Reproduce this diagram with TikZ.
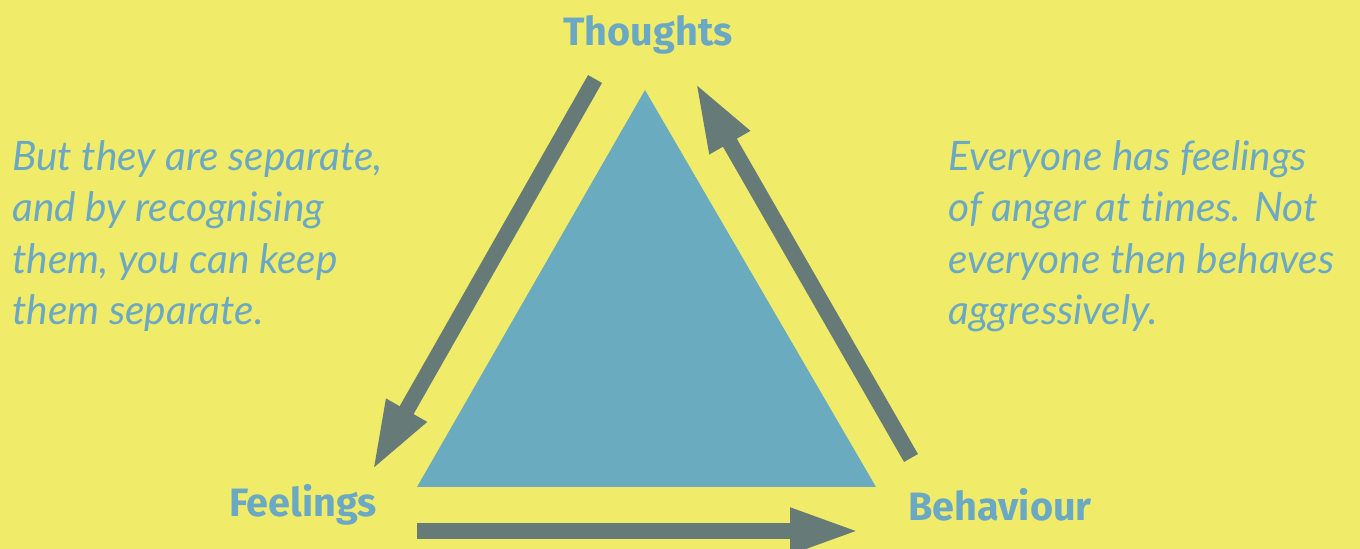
\documentclass[tikz,border=0pt]{standalone}
\usepackage{fontspec}
\setmainfont{Lato}[Ligatures=NoCommon]
\newfontfamily\labelfont{Fira Sans}
\usetikzlibrary{arrows.meta,positioning}
\definecolor{bgyellow}{HTML}{F0EC6A}
\definecolor{triblue}{HTML}{6AABC0}
\definecolor{arrowgrey}{HTML}{667A78}
\definecolor{textblue}{HTML}{6AA8C4}
\begin{document}
\begin{tikzpicture}[x=0.5pt, y=-0.5pt, corner/.style={text=textblue, inner sep=0pt, font={\labelfont\bfseries\fontsize{19.8pt}{22pt}\selectfont}}, note/.style={text=textblue, inner sep=0pt, anchor=north west, align=left, font={\itshape\fontsize{20.3pt}{25.7pt}\selectfont}}, cyclearrow/.style={arrowgrey, line width=8pt, -{Triangle[length=35pt, width=21pt]}}]
  \fill[bgyellow] (0,0) rectangle (1360,549);
  \useasboundingbox (0,0) rectangle (1360,549);

  \coordinate (apex) at (645,90);
  \coordinate (baseleft) at (417,487);
  \coordinate (baseright) at (876,487);
  \fill[triblue] (apex) -- (baseright) -- (baseleft) -- cycle;

  \node[corner] (thoughts) at (648,35) {Thoughts};
  \node[corner] (feelings) at (303,505) {Feelings};
  \node[corner] (behaviour) at (1000,505) {Behaviour};

  \coordinate (tfstart) at (595,79);
  \coordinate (tfend) at (372,471);
  \coordinate (fbstart) at (417,531);
  \coordinate (fbend) at (860,531);
  \coordinate (btstart) at (911,458);
  \coordinate (btend) at (695,82);

  \draw[cyclearrow] (tfstart) -- (tfend);
  \draw[cyclearrow] (fbstart) -- (fbend);
  \draw[cyclearrow] (btstart) -- (btend);

  \node[note] (separate) at (12,140) {But they are separate,\\and by recognising\\them, you can keep\\them separate.};
  \node[note] (anger) at (948,140) {Everyone has feelings\\of anger at times. Not\\everyone then behaves\\aggressively.};
\end{tikzpicture}
\end{document}
